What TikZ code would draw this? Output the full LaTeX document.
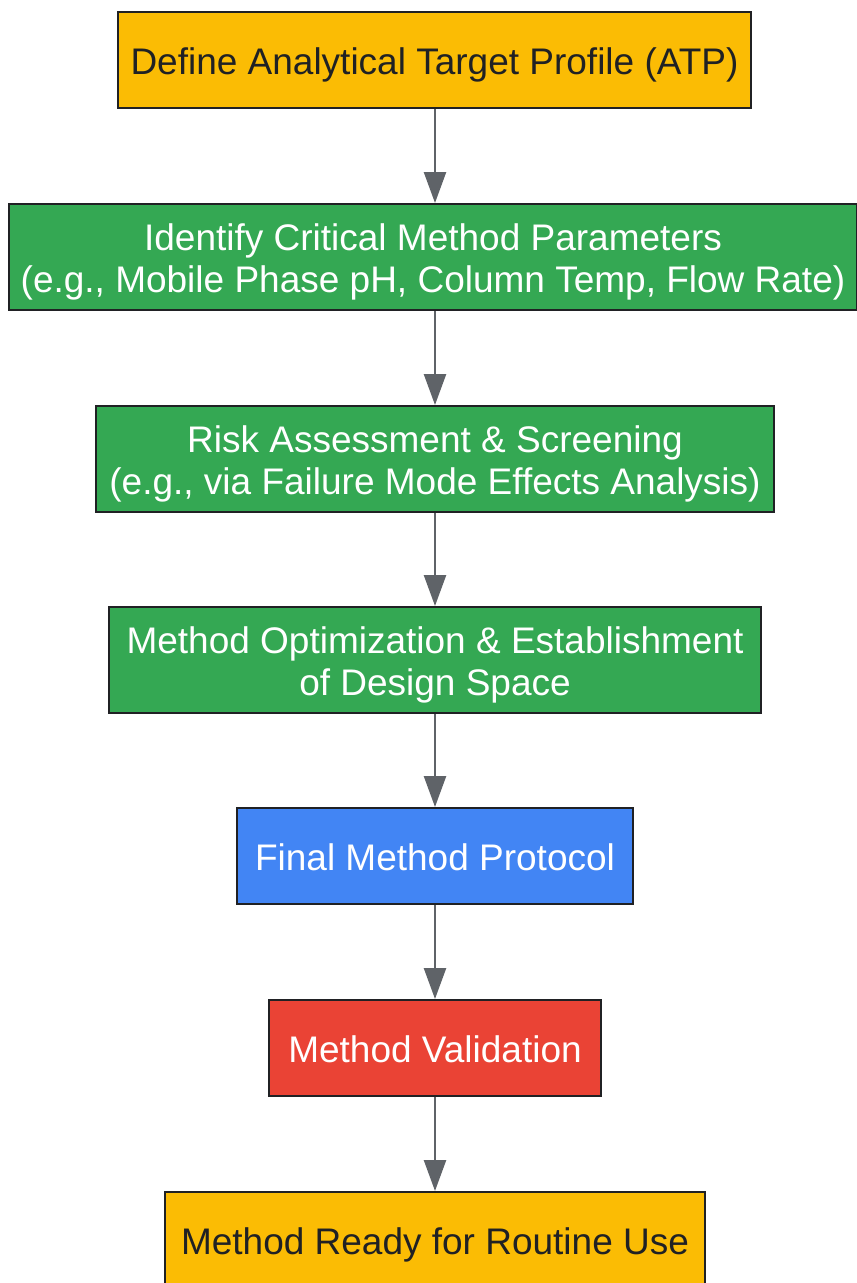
\documentclass[tikz,border=0pt]{standalone}
\usepackage{fontspec}
\setmainfont{Liberation Sans}
\usetikzlibrary{arrows.meta}
\definecolor{gyellow}{HTML}{FBBC04}
\definecolor{ggreen}{HTML}{34A853}
\definecolor{gblue}{HTML}{4285F4}
\definecolor{gred}{HTML}{EA4335}
\definecolor{gborder}{HTML}{202124}
\definecolor{garrow}{HTML}{5F6368}
\newcommand\bxt[1]{\raisebox{-6.5pt}[\height][\depth]{\begin{tabular}{@{}c@{}}#1\end{tabular}}}
\begin{document}
\begin{tikzpicture}[x=1pt,y=-1pt,
  box/.style={draw=gborder,line width=2pt,inner sep=0pt,
    font=\fontsize{37}{42}\selectfont},
  darktext/.style={text=gborder},
  lighttext/.style={text=white},
  conn/.style={draw=garrow,line width=2.5pt,-{Triangle[width=22pt,length=31pt]}}]
\useasboundingbox (0,0) rectangle (857,1283);
\node[box,darktext,fill=gyellow,minimum width=633pt,minimum height=96pt] (a) at (434.5,60) {\bxt{Define Analytical Target Profile (ATP)}};
\node[box,lighttext,fill=ggreen,minimum width=848pt,minimum height=106pt] (b) at (433,257) {\bxt{Identify Critical Method Parameters\\(e.g., Mobile Phase pH, Column Temp, Flow Rate)}};
\node[box,lighttext,fill=ggreen,minimum width=678pt,minimum height=106pt] (c) at (435,459) {\bxt{Risk Assessment \& Screening\\(e.g., via Failure Mode Effects Analysis)}};
\node[box,lighttext,fill=ggreen,minimum width=652pt,minimum height=106pt] (d) at (435,660) {\bxt{Method Optimization \& Establishment\\of Design Space}};
\node[box,lighttext,fill=gblue,minimum width=396pt,minimum height=96pt] (e) at (435,856) {\bxt{Final Method Protocol}};
\node[box,lighttext,fill=gred,minimum width=332pt,minimum height=96pt] (f) at (435,1048) {\bxt{Method Validation}};
\node[box,darktext,fill=gyellow,minimum width=540pt,minimum height=96pt] (g) at (435,1240) {\bxt{Method Ready for Routine Use}};
\draw[conn] (a.south -| 435,0) -- (b.north -| 435,0);
\draw[conn] (b.south -| 435,0) -- (c.north);
\draw[conn] (c) -- (d);
\draw[conn] (d) -- (e);
\draw[conn] (e) -- (f);
\draw[conn] (f) -- (g);
\end{tikzpicture}
\end{document}
